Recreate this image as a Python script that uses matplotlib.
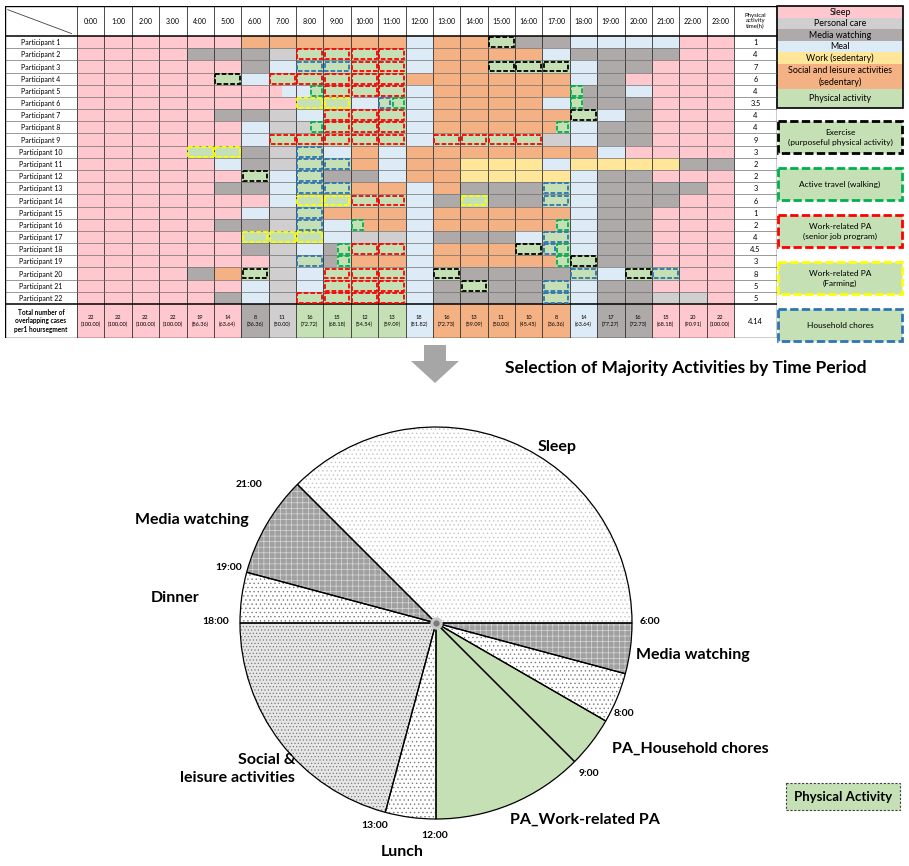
import matplotlib.pyplot as plt
from matplotlib.patches import Rectangle, Polygon

plt.rcParams['font.family'] = ['Lato', 'DejaVu Sans']
plt.rcParams['hatch.linewidth'] = 0.5

# ---- data ----
hours = [f'{h}:00' for h in range(24)]
participants = [f'Participant {i}' for i in range(1, 23)]

# S sleep, C personal care, M media watching, E meal, W work (sedentary),
# L social/leisure (sedentary); physical activity: k exercise, g active travel,
# r work-related (senior job), y work-related (farming), b household chores
schedule = [
    'SSSSSSLLLLLLELLkMMEEEESS',
    'SSSSMMMCrrrrELLLLEMMMMSS',
    'SSSSSSMEbbrrELLkkkEMMSSS',
    'SSSSSkErrrrrLLLLLLEMSSSS',
    'SSSSSSSEgrrrELLLLLgMESSS',
    'SSSSSSSSyyEbELLLLEgMMSSS',
    'SSSSSMMCErrrELLLLLkEMSSS',
    'SSSSSSECgrrrELLLLgEMMSSS',
    'SSSSSSErrrrrErrrrCEMMSSS',
    'SSSSyyMCbELELLLLLLLESSSS',
    'SSSSSEMCbbLELLWWWEWWWWMM',
    'SSSSSSkEbMMELLWWWWEMMSSS',
    'SSSSSMMEbbLLELMMMbEMMMMS',
    'SSSSSSSEyyrrEMyMMbEMMMSS',
    'SSSSSSECbLLLELLLLLEMMSSS',
    'SSSSSMMCbEgLELLLLgEMMSSS',
    'SSSSSSyyyECCEMMMEbEMMSSS',
    'SSSSSSMCEgrrELLLkbEMMSSS',
    'SSSSSSSCbgLLELLLLgkMMSSS',
    'SSSSMLkCErrrEkMMMMbEkbSS',
    'SSSSSSECErrrEMkMMbEMMSSS',
    'SSSSSMECrrrrEMMMMbEMMCCS',
]
# (participant, hour, first half, second half)
half_cells = [
    (5, 7, 'S', 'E'), (5, 8, 'E', 'g'), (5, 18, 'g', 'M'),
    (6, 11, 'b', 'g'), (6, 18, 'g', 'M'),
    (8, 8, 'C', 'g'), (8, 17, 'L', 'g'),
    (16, 10, 'g', 'L'), (16, 17, 'L', 'g'),
    (18, 9, 'M', 'g'), (18, 17, 'b', 'g'),
    (19, 9, 'M', 'g'), (19, 17, 'L', 'g'),
]
pa_time = ['1', '4', '7', '6', '4', '3.5', '4', '4', '9', '3', '2',
           '2', '3', '6', '1', '2', '4', '4.5', '3', '8', '5', '5']
pa_mean = '4.14'
total_counts = [22, 22, 22, 22, 19, 14, 8, 11, 16, 15, 12, 13,
                18, 16, 13, 11, 10, 8, 14, 17, 16, 15, 20, 22]
total_pct = ['100.00', '100.00', '100.00', '100.00', '86.36', '63.64', '36.36', '50.00',
             '72.72', '68.18', '54.54', '59.09', '81.82', '72.73', '59.09', '50.00',
             '45.45', '36.36', '63.64', '77.27', '72.73', '68.18', '90.91', '100.00']
total_major = 'SSSSSSMCAAAAELLLLLEMMSSS'

legend_fill = [('Sleep', 'S'), ('Personal care', 'C'), ('Media watching', 'M'), ('Meal', 'E'),
               ('Work (sedentary)', 'W'), ('Social and leisure activities\n(sedentary)', 'L'),
               ('Physical activity', 'A')]
legend_dash = [('Exercise\n(purposeful physical activity)', 'k'), ('Active travel (walking)', 'g'),
               ('Work-related PA\n(senior job program)', 'r'), ('Work-related PA\n(Farming)', 'y'),
               ('Household chores', 'b')]

# pie, clockwise from 6:00
pie_names = ['Media watching', 'Breakfast', 'PA_Household chores', 'PA_Work-related PA', 'Lunch',
             'Social &\nleisure activities', 'Dinner', 'Media watching', 'Sleep']
pie_hours = [1, 1, 1, 3, 1, 5, 1, 2, 9]
pie_kind = ['M', 'E', 'A', 'A', 'E', 'L', 'E', 'M', 'S']
time_ticks = [6, 8, 9, 12, 13, 18, 19, 21]

# ---- styles ----
fill = {'S': '#FFC7CE', 'C': '#D0CECE', 'M': '#AEAAAA', 'E': '#DDEBF7',
        'W': '#FFE699', 'L': '#F4B183', 'A': '#C5E0B4'}
dash = {'k': '#000000', 'g': '#00B050', 'r': '#FF0000', 'y': '#FFFF00', 'b': '#2E75B6'}
pie_style = {'S': ('white', '....', '#c4c4c4'), 'M': ('#A0A0A0', '+++', '#D8D8D8'),
             'E': ('white', '....', '#7a7a7a'), 'L': ('#E6E6E6', '.....', '#7a7a7a'),
             'A': ('#C5E0B4', '', '#C5E0B4')}


def cell_fill(c):
    return fill['A'] if c in dash else fill[c]


W, H = 909, 866
fig = plt.figure(figsize=(W / 100, H / 100), dpi=100)


def px_axes(x0, y0, x1, y1):
    return fig.add_axes([x0 / W, 1 - y1 / H, (x1 - x0) / W, (y1 - y0) / H])


ov = px_axes(0, 0, W, H)
ov.set_xlim(0, W)
ov.set_ylim(H, 0)
ov.axis('off')

# ---- table ----
cw = (734 - 77) / 24
rh = (304 - 36) / 22
left, right = (77 - 5) / cw, (777 - 734) / cw
head, foot = (36 - 6) / rh, (338 - 304) / rh
tab = px_axes(5, 6, 777, 338)
tab.set_xlim(-left, 24 + right)
tab.set_ylim(22 + foot, -head)
tab.axis('off')

halves = {(p - 1, h): (a, b) for p, h, a, b in half_cells}
dash_ls = (0, (2.6, 1.1))


def pa_box(x, y, w, c):
    tab.add_patch(Rectangle((x + 0.05, y + 0.1), w - 0.1, 0.8, fill=False,
                            ec=dash[c], lw=1.3, ls=dash_ls, zorder=4))


for r, row in enumerate(schedule):
    for h, c in enumerate(row):
        if (r, h) in halves:
            for k, cc in enumerate(halves[(r, h)]):
                tab.add_patch(Rectangle((h + 0.5 * k, r), 0.5, 1, fc=cell_fill(cc), ec='none'))
                if cc in dash:
                    pa_box(h + 0.5 * k, r, 0.5, cc)
        else:
            tab.add_patch(Rectangle((h, r), 1, 1, fc=cell_fill(c), ec='none'))
            if c in dash:
                pa_box(h, r, 1, c)
    tab.text(-left / 2, r + 0.55, participants[r], ha='center', va='center', fontsize=5.0)
    tab.text(24 + right / 2, r + 0.55, pa_time[r], ha='center', va='center', fontsize=5.4)

for h in range(24):
    tab.text(h + 0.5, -head / 2, hours[h], ha='center', va='center', fontsize=5.0)
    tab.add_patch(Rectangle((h, 22), 1, foot, fc=cell_fill(total_major[h]), ec='none'))
    tab.text(h + 0.5, 22 + foot / 2, f'{total_counts[h]}\n({total_pct[h]})', ha='center',
             va='center', fontsize=4.1, linespacing=1.5)
tab.text(-left / 2, 22 + foot / 2, 'Total number of\noverlapping cases\nper1 hoursegment',
         ha='center', va='center', fontsize=4.7, fontweight='bold', linespacing=1.3)
tab.text(24 + right / 2, 22 + foot / 2, pa_mean, ha='center', va='center', fontsize=5.4)
tab.text(24 + right / 2, -head / 2, 'Physical\nactivity\ntime(h)', ha='center', va='center',
         fontsize=4.4, linespacing=1.1)

for x in range(25):
    tab.plot([x, x], [-head, 22 + foot], color='#303030', lw=0.6, zorder=3)
for y in range(1, 22):
    tab.plot([-left, 24 + right], [y, y], color='#707070', lw=0.5, zorder=3)
for y in (0, 22):
    tab.plot([-left, 24 + right], [y, y], color='black', lw=1.1, zorder=3)
tab.add_patch(Rectangle((-left, -head), 24 + left + right, 22 + head + foot, fill=False,
                        ec='black', lw=1.0, zorder=5))
tab.plot([-left + 0.1, -0.2], [-head + 0.3, -0.2], color='#404040', lw=0.6)

# ---- legends ----
y = 6
lh = [11.5, 11.5, 11.5, 11.5, 11.5, 25, 19.5]
for (name, c), hh in zip(legend_fill, lh):
    ov.add_patch(Rectangle((777, y), 126, hh, fc=fill[c], ec='none'))
    ov.text(840, y + hh / 2 + 0.5, name, ha='center', va='center', fontsize=6.4, linespacing=1.3)
    y += hh
ov.add_patch(Rectangle((777, 6), 126, y - 6, fill=False, ec='black', lw=1.2))

for i, (name, c) in enumerate(legend_dash):
    y0 = 121 + i * 47
    ov.add_patch(Rectangle((778, y0), 124, 32, fc=fill['A'], ec=dash[c], lw=2.0,
                           ls=(0, (3, 1.2))))
    ov.text(840, y0 + 16.5, name, ha='center', va='center', fontsize=6.0, linespacing=1.4)

# ---- arrow and title ----
ov.add_patch(Polygon([(424, 345), (446, 345), (446, 361), (459, 361), (435, 383),
                      (411, 361), (424, 361)], closed=True, fc='#A6A6A6', ec='none'))
ov.text(686, 368, 'Selection of Majority Activities by Time Period', ha='center', va='center',
        fontsize=12.5, fontweight='bold')

# ---- pie ----
cx, cy, rad = 436, 623, 196
pie = px_axes(0, 380, W, H)
wedges, _ = pie.pie(pie_hours, startangle=0, counterclock=False, wedgeprops=dict(lw=0))
for w, k in zip(wedges, pie_kind):
    fc, hatch, hc = pie_style[k]
    w.set_facecolor(fc)
    w.set_hatch(hatch)
    w.set_edgecolor(hc)
pie.pie(pie_hours, startangle=0, counterclock=False,
        wedgeprops=dict(fill=False, edgecolor='black', lw=0.9))
pie.scatter([0], [0], s=80, color='#c8c8c8', zorder=5, lw=0)
pie.scatter([0], [0], s=20, color='#7a7a7a', zorder=6, lw=0)
pie.set_aspect('auto')
pie.set_xlim(-cx / rad, (W - cx) / rad)
pie.set_ylim(-(H - cy) / rad, (cy - 380) / rad)
pie.axis('off')


def to_pie(x, y):
    return (x - cx) / rad, (cy - y) / rad


# label layout in pixels
name_pos = [(636, 655, 'left'), None, (612, 749, 'left'), (510, 820, 'left'), (402, 852, 'center'),
            (295, 769, 'right'), (175, 598, 'center'), (192, 520, 'center'), (557, 447, 'center')]
for name, pos in zip(pie_names, name_pos):
    if pos is None:
        continue
    x, y, ha = pos
    pie.text(*to_pie(x, y), name, ha=ha, va='center', fontsize=11.5, fontweight='bold',
             multialignment='right', linespacing=1.4)

tick_pos = {6: (650, 621), 8: (624, 714), 9: (589, 774), 12: (435, 836), 13: (375, 826),
            18: (216, 622), 19: (229, 568), 21: (249, 484)}
for t in time_ticks:
    pie.text(*to_pie(*tick_pos[t]), f'{t}:00', ha='center', va='center', fontsize=7.5,
             fontweight='bold')

# physical activity box
ov.add_patch(Rectangle((786, 783), 114, 27, fc=fill['A'], ec='#404040', lw=0.8,
                       ls=(0, (2, 1.5))))
ov.text(843, 797, 'Physical Activity', ha='center', va='center', fontsize=9.5, fontweight='bold')

fig.savefig('out.png', dpi=100)
